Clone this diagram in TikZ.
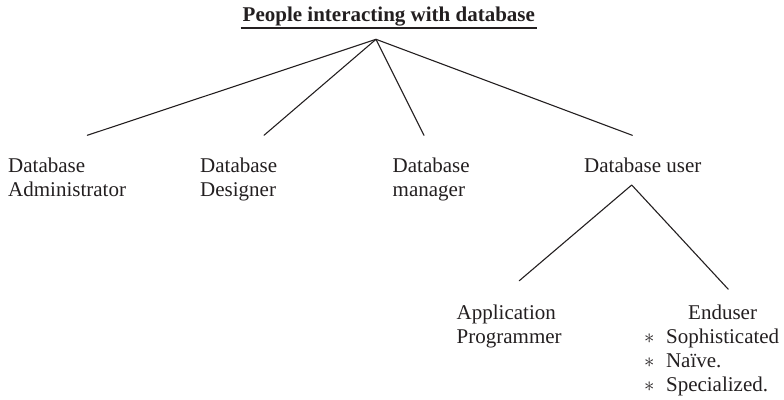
\documentclass[tikz,border=0pt]{standalone}
\usepackage{fontspec}
\setmainfont{Liberation Serif}
\begin{document}
\begin{tikzpicture}[x=1pt,y=-1pt,
  ink/.style={color={rgb,255:red,35;green,31;blue,32}},
  label/.style={ink,inner sep=0pt,anchor=base west,align=left,
    font={\fontsize{21}{24}\selectfont}},
  branch/.style={ink,line width=1.1pt,line cap=round,line join=round}]
\useasboundingbox (0,0) rectangle (784,399);

% heading
\node[label,font={\fontsize{21}{24}\selectfont\bfseries}] (title) at (242.5,21)
  {People interacting with database};
\draw[ink,line width=1.9pt] ([xshift=-2pt,yshift=-7.3pt]title.base west)
  -- ([xshift=2pt,yshift=-7.3pt]title.base east);

% first level (positions are the baselines of the last lines)
\node[label] (admin)    at (8,196.7)     {Database\\Administrator};
\node[label] (designer) at (200,196.7)   {Database\\Designer};
\node[label] (manager)  at (392.5,196.7) {Database\\manager};
\node[label] (user)     at (584,172.5)   {Database user};

% second level
\node[label] (app)     at (456.5,343.3) {Application\\Programmer};
\node[label] (enduser) at (688,319.3)   {Enduser};
\node[label] (kinds)   at (644,391)
  {$\ast$\hspace{11.5pt}Sophisticated\\
   $\ast$\hspace{11.5pt}Naïve.\\
   $\ast$\hspace{11.5pt}Specialized.};

% branch points and branch ends
\coordinate (root)        at (376,39.3);
\coordinate (adminEnd)    at (87.3,135.3);
\coordinate (designerEnd) at (264,135.3);
\coordinate (managerEnd)  at (424,135.3);
\coordinate (userEnd)     at (632.3,135.3);
\coordinate (userTop)     at (631.7,185);
\coordinate (appEnd)      at (519.3,280.7);
\coordinate (endEnd)      at (728.3,289.3);

\draw[branch] (adminEnd) -- (root) -- (userEnd);
\draw[branch] (designerEnd) -- (root) -- (managerEnd);
\draw[branch] (appEnd) -- (userTop) -- (endEnd);
\end{tikzpicture}
\end{document}
